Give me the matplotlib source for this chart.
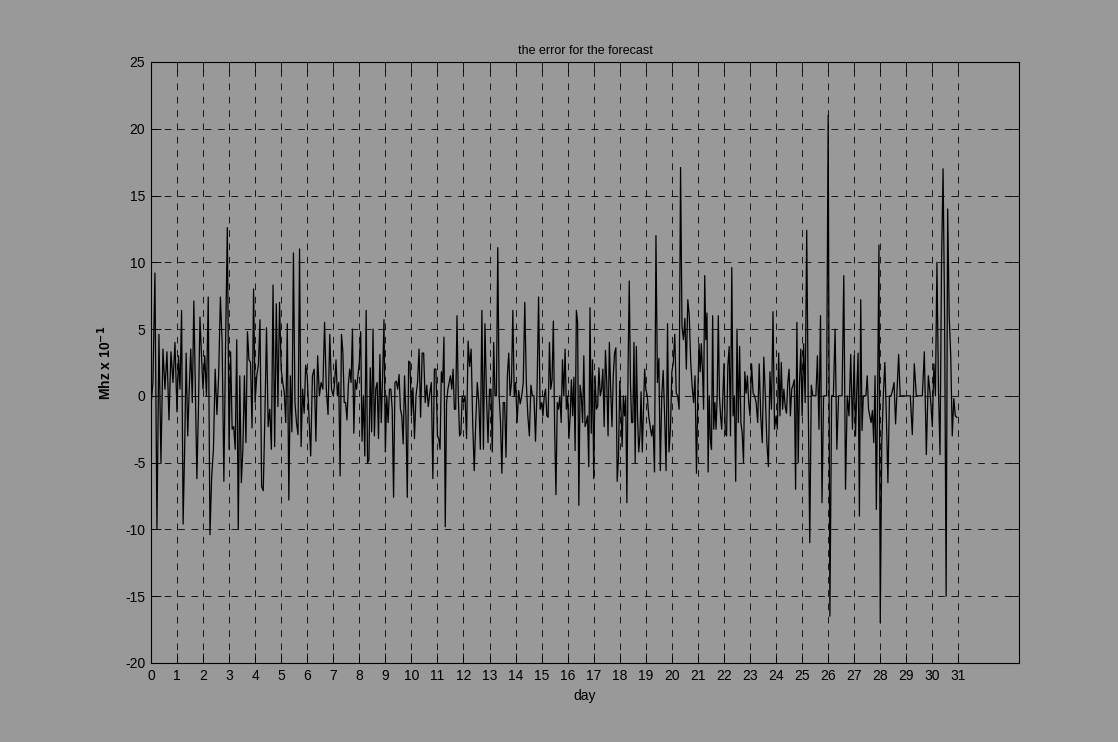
import numpy as np
import matplotlib
matplotlib.use("Agg")
import matplotlib.pyplot as plt

plt.rcParams['font.family'] = ['Liberation Sans', 'DejaVu Sans']
plt.rcParams['axes.unicode_minus'] = False

# forecast error per day (Mhz x 10^-1), in time order
day00 = [-0.8, 1, 9.2, -10, 4.6, -5, 3.5, 0.5, 3.3, -1.8, 3.3, 1, 4]
day01 = [-1.2, 3, 0.5, 6.4, -9.6, -4, 3.2, -3, 0.5, 3.5, -0.5, 7.1, 0.4, -6.2, -1, 5.9, 3]
day02 = [0.5, 3, 0, 7.4, -10.4, -6, -4, 2, -1.4, 1.5, 7.4, 4, -6.4, 4, 12.6]
day03 = [-4, 3.3, -2.5, -2.3, -4, 4.2, -10, 1.5, -6.5, -4, 1.5, -3.5, 4.8, 2.7, 2.5, -2.4, 8]
day04 = [-0.5, 1.5, 2.3, 5.7, -6.8, -7.1, -1.5, 5.1, -2.3, -1, -4, 8.3, -3.8, 6.9, -0.8, 7]
day05 = [2, 1, 0.3, -2, 5.4, -7.8, 1.5, -2.7, 10.7, -0.5, -2, -2.9, 11, -3.8, 0.5, -1.3, 2.3]
day06 = [1.5, -1.5, -4.5, 1.5, 2, -3.4, 3, 0, 1, 0.5, 5.5, 0.5, -1.4, 4.6, 0.5]
day07 = [0, 1, 2.7, 0, 1, -6, 4.6, 3.3, -0.5, -0.5, -1.8, 0.8, 2, 1, 5, -2.8, 1.2, 0.5, 1.5]
day08 = [2.5, 4.8, -3.4, 0, -4.5, 6.4, -5, -4.8, 2.1, -2.7, 5, -3, 0.5, 1, -3.2, 3.1, -2, 1.5, 5.7]
day09 = [-4.2, 0, -2, 0.5, 0.5, -1, -7.6, 1, 1.1, 0.5, 1.6, -1, -1.5, -3.6, 1.5, -1.5, -7.6, 2.6, 2.5]
day10 = [-1.5, 0.6, -3.2, 0, 1, 3.5, -1.6, 3.2, 3.2, -0.5, 0.8, -0.8, 0.2, 1, -6.2, 2, 2]
day11 = [-3, -3.2, -4, 1.8, 1, 4.4, -9.8, -0.5, 0.5, 1, 1.5, 0.5, 2, -1, -1, 6, 0, -3, -2.8, 0]
day12 = [-0.5, 0, -3.2, 4.1, 2.2, 3.5, -2, -5.6, -2, 1, -0.5, -4, 6.4, -4, 5.4, 0, -3.5]
day13 = [0.5, 0.5, -4.2, 4, 0, 0, 11.1, 0, -2, -5.8, -0.5, -0.5, -4.6, 1.5, 3.2, 0, 1, 6.4, 0]
day14 = [1, -2, 0.4, -0.6, 0, 1, 7, 1, -1.5, -3, 0.8, 0, 0, -3.4, 0.5, 7.4, -1]
day15 = [-0.5, -1.5, 0, 0.5, -1.5, -1.6, 4, 0.5, 1.2, 5.6, -2.5, -7.4, -0.5, -1, 0, -2, 2.7, 0, 3.5, -1]
day16 = [0, -3.2, -1.5, 1.2, -1.5, 1.4, -4.1, 6.4, 5.5, -8.2, 0.8, 0, -2, 3, -2.3, -2, -1.5, -5.3, 6.6, -2.8, 2.7]
day17 = [-6.2, 1.5, -1, -0.8, 2.1, 0, 0.5, 2, -2.3, 3.4, 1, -3, 4, 0.5, -2.3, 1.5, 3.2, 3.6, -6.4, -4.6]
day18 = [1.1, -1, -3.8, 0, -1.5, 0, -8, 2, 8.6, 1, -2, -2, 4, -5, 3.7, -1.5, -4.2, -3, 0.3, -4.2, -1, 2]
day19 = [0.5, 0, -1.5, -2.3, -3, -2.2, -5.7, 12, 1, 2.8, -5.6, 0, 1.9, -1.5, -5.6, 5.4, -4.2, -2.5]
day20 = [1.8, 2.5, 4.6, 0.2, 0, -1, 17.1, 5.2, 4.2, 5.8, 2, 7.2, 6, 2.6, 0.7, -0.5, 1.5, -5.8]
day21 = [0.5, 3.9, 1.8, 3.9, 2, -1, 9, 4.2, 6.2, -5.7, 0, -3.3, -4, 6, -2.5, -0.5, -2.5, 0, 6, 0, -1.5, -2.5, 0]
day22 = [2.4, -2.8, -3, 2.3, 3.7, -3, 9.6, -1.5, 0, -6.4, 5, -2, 3.7, -2, -2.8, -5, 1.8, 0.2, 1.5, -0.5]
day23 = [-1.5, 2.4, 0.2, 0, -0.5, -2, 2.4, -1.5, -3.5, 2.9, 0, -3.5, -5.3, 1.8, -1, 6.3, -2.5]
day24 = [-1.5, -2.5, 3.2, -1.5, 2.5, -1, 0.5, -0.8, -1.3, 1, 2, -1.5, 0.5, 0.8, 1.2, -7, 5.5, -5, 1, 3.5]
day25 = [-1.5, 3.9, -0.5, 12.4, -0.5, -11, 0.8, 0, 0, 0, 3, -2.5, 6, -8, 0, 0, 0]
day26 = [21, -16.5, 0, 0, 5, -4, 0, 0, 0, 9, -7, 0, -1.5, 3.1, -2.5]
day27 = [3, -3, 0.5, 3.2, -9, 7.2, -2.6, 0, 0, 0, 1.5, -1, -1.5, -2, -1.1, -3.5, 1.5, -8.5, 0.5, 11.3]
day28 = [-17, -3.5, 0, 2.5, -1.6, -6.5, 0, 0, 0.4, 1, -2.1, 0.5, 3.1, 0, 0, 0, 0]
day29 = [0, 0, 0, -2.9, 2.4, 0, 0, 0, 0, 3.3, -4.4, 1.5, 0]
day30 = [-2.3, 2.4, 0, 10, 0.5, -4.4, 10, 17, 6, -15, 14, 6, 3, -3, -0.2, -1.5, -1.6]

days = [day00, day01, day02, day03, day04, day05, day06, day07, day08, day09,
        day10, day11, day12, day13, day14, day15, day16, day17, day18, day19,
        day20, day21, day22, day23, day24, day25, day26, day27, day28, day29, day30]

day_ticks = list(range(32))

# samples spread evenly inside each day
x = []
y = []
for d, vals in enumerate(days):
    n = len(vals)
    for i, v in enumerate(vals):
        x.append(d + i / n)
        y.append(v)

bg = '#999999'
fig = plt.figure(figsize=(11.18, 7.42), dpi=100, facecolor=bg)
ax = fig.add_axes([0.135, 0.1065, 0.7766, 0.81])
ax.set_facecolor(bg)

ax.plot(x, y, color='black', linewidth=0.9)

ax.set_xlim(0, 100 / 3)
ax.set_ylim(-20, 25)
ax.set_xticks(day_ticks)
ax.set_yticks(np.arange(-20, 26, 5))
ax.grid(True, color='black', linestyle=(0, (8, 8)), linewidth=0.6)
ax.tick_params(direction='in', top=True, right=True, length=7, width=0.6,
               labelsize=10, pad=4, colors='black')
for s in ax.spines.values():
    s.set_linewidth(0.8)

ax.set_title('the error for the forecast', fontsize=9, pad=6)
ax.set_xlabel('day', fontsize=10, labelpad=5)
ax.set_ylabel(r'Mhz x 10$^{\mathbf{-1}}$', fontsize=10, fontweight='bold', labelpad=8)

fig.savefig('out.png', dpi=100, facecolor=bg)
